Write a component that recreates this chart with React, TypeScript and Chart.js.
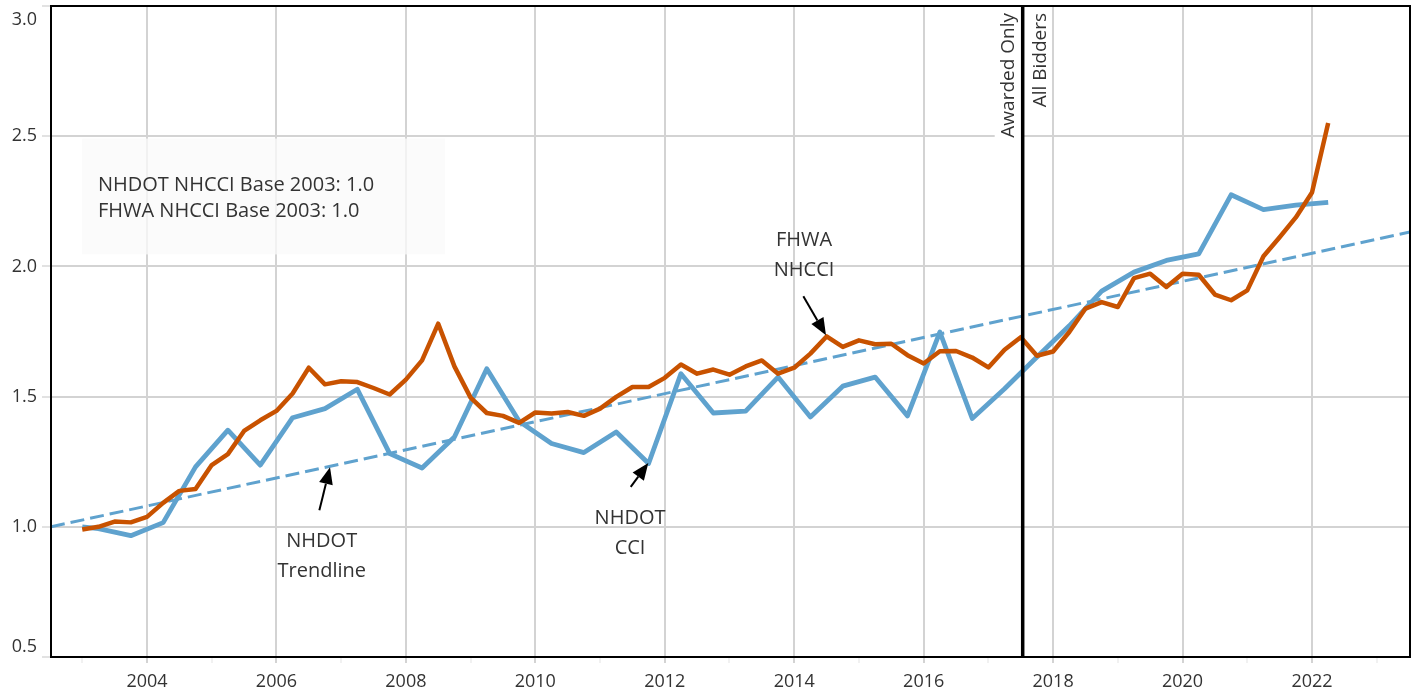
import React, { useEffect, useRef } from 'react';
import { Chart, registerables } from 'chart.js';

Chart.register(...registerables);

const FONT = '"Open Sans", "Noto Sans", "DejaVu Sans", sans-serif';

// ---------- data ----------
const fhwaStartYear = 2003; // first quarter shown (Q1 2003), quarterly thereafter
const fhwaValues = [
  0.99, 1.0, 1.02, 1.017, 1.038, 1.092, 1.138, 1.145,
  1.237, 1.279, 1.368, 1.409, 1.445, 1.512, 1.611, 1.547,
  1.559, 1.556, 1.533, 1.508, 1.565, 1.639, 1.78, 1.616,
  1.496, 1.437, 1.426, 1.399, 1.439, 1.435, 1.441, 1.426,
  1.454, 1.499, 1.537, 1.537, 1.572, 1.623, 1.588, 1.604,
  1.584, 1.616, 1.639, 1.588, 1.611, 1.665, 1.731, 1.691,
  1.716, 1.701, 1.703, 1.659, 1.627, 1.674, 1.675, 1.65,
  1.612, 1.68, 1.728, 1.657, 1.673, 1.748, 1.838, 1.863,
  1.844, 1.955, 1.972, 1.921, 1.972, 1.968, 1.892, 1.87,
  1.908, 2.039, 2.112, 2.188, 2.284, 2.551,
];
const fhwaDates = fhwaValues.map((_, i) => fhwaStartYear + i * 0.25);

const nhdotDates = [
  2003.0, 2003.25, 2003.75, 2004.25, 2004.75, 2005.25, 2005.75, 2006.25,
  2006.75, 2007.25, 2007.75, 2008.25, 2008.75, 2009.25, 2009.75, 2010.25,
  2010.75, 2011.25, 2011.75, 2012.25, 2012.75, 2013.25, 2013.75, 2014.25,
  2014.75, 2015.25, 2015.75, 2016.25, 2016.75, 2017.25, 2017.75, 2018.25,
  2018.75, 2019.25, 2019.75, 2020.25, 2020.75, 2021.25, 2021.75, 2022.25,
];
const nhdotValues = [
  1.0, 0.993, 0.966, 1.016, 1.23, 1.371, 1.237, 1.419,
  1.454, 1.528, 1.281, 1.226, 1.345, 1.607, 1.405, 1.32,
  1.285, 1.364, 1.243, 1.588, 1.437, 1.444, 1.575, 1.422,
  1.54, 1.575, 1.426, 1.748, 1.416, 1.53, 1.652, 1.772,
  1.905, 1.978, 2.023, 2.048, 2.275, 2.218, 2.235, 2.246,
];

const trendDates = [2002.517, 2023.514];
const trendValues = [1.0, 2.132];

const bidderChangeDate = 2017.53;

const xRange = [2002.517, 2023.514];
const yRange = [0.5, 3.0];
const xTickYears = [
  2003, 2004, 2005, 2006, 2007, 2008, 2009, 2010, 2011, 2012, 2013,
  2014, 2015, 2016, 2017, 2018, 2019, 2020, 2021, 2022, 2023,
];
const yTickValues = [0.5, 1.0, 1.5, 2.0, 2.5, 3.0];

const legendLines = ['NHDOT NHCCI Base 2003: 1.0', 'FHWA NHCCI Base 2003: 1.0'];
const dividerLabels = ['Awarded Only', 'All Bidders'];

// ---------- annotation placement (data coordinates) ----------
const legendBox = { x1: 2002.996, x2: 2008.605, y1: 2.491, y2: 2.046, textX: 2003.243, textY: 2.289 };
const callouts = [
  { lines: ['NHDOT', 'Trendline'], textX: 2006.7, textY: 0.923, tail: [2006.663, 1.064], tip: [2006.828, 1.229] },
  { lines: ['NHDOT', 'CCI'], textX: 2011.463, textY: 1.01, tail: [2011.474, 1.153], tip: [2011.746, 1.245] },
  { lines: ['FHWA', 'NHCCI'], textX: 2014.152, textY: 2.077, tail: [2014.141, 1.885], tip: [2014.491, 1.736] },
];

const BLUE = '#5fa2ce';
const ORANGE = '#c85200';
const GRID = '#d3d3d3';
const TEXT = '#333333';

function drawArrow(ctx: CanvasRenderingContext2D, x0: number, y0: number, x1: number, y1: number) {
  const ang = Math.atan2(y1 - y0, x1 - x0);
  const hl = 17;
  const hw = 7;
  const bx = x1 - hl * Math.cos(ang);
  const by = y1 - hl * Math.sin(ang);
  ctx.strokeStyle = '#000';
  ctx.fillStyle = '#000';
  ctx.lineWidth = 2;
  ctx.beginPath();
  ctx.moveTo(x0, y0);
  ctx.lineTo(bx, by);
  ctx.stroke();
  ctx.beginPath();
  ctx.moveTo(x1, y1);
  ctx.lineTo(bx + hw * Math.sin(ang), by - hw * Math.cos(ang));
  ctx.lineTo(bx - hw * Math.sin(ang), by + hw * Math.cos(ang));
  ctx.closePath();
  ctx.fill();
}

const overlayPlugin = {
  id: 'overlay',
  beforeDatasetsDraw(chart: any) {
    const { ctx, scales, chartArea } = chart;
    const x = scales.x;
    const y = scales.y;
    ctx.save();
    const bx1 = x.getPixelForValue(legendBox.x1);
    const bx2 = x.getPixelForValue(legendBox.x2);
    const by1 = y.getPixelForValue(legendBox.y1);
    const by2 = y.getPixelForValue(legendBox.y2);
    ctx.fillStyle = 'rgba(250,250,250,0.78)';
    ctx.fillRect(bx1, by1, bx2 - bx1, by2 - by1);
    const lx = x.getPixelForValue(bidderChangeDate);
    ctx.fillStyle = '#ffffff';
    ctx.fillRect(lx - 28, chartArea.top + 1, 27, 133);
    ctx.restore();
  },
  afterDatasetsDraw(chart: any) {
    const { ctx, scales, chartArea } = chart;
    const x = scales.x;
    const y = scales.y;
    ctx.save();
    // legend text
    ctx.fillStyle = TEXT;
    ctx.font = `20px ${FONT}`;
    ctx.textAlign = 'left';
    ctx.textBaseline = 'alphabetic';
    const tx = x.getPixelForValue(legendBox.textX);
    const ty = y.getPixelForValue(legendBox.textY);
    legendLines.forEach((l, i) => ctx.fillText(l, tx, ty + i * 26));

    // callouts
    callouts.forEach((c) => {
      ctx.fillStyle = TEXT;
      ctx.font = `20px ${FONT}`;
      ctx.textAlign = 'center';
      const cx = x.getPixelForValue(c.textX);
      const cy = y.getPixelForValue(c.textY);
      c.lines.forEach((l, i) => ctx.fillText(l, cx, cy + i * 30));
      drawArrow(
        ctx,
        x.getPixelForValue(c.tail[0]), y.getPixelForValue(c.tail[1]),
        x.getPixelForValue(c.tip[0]), y.getPixelForValue(c.tip[1])
      );
    });

    // divider labels
    const lx = x.getPixelForValue(bidderChangeDate);
    ctx.fillStyle = TEXT;
    ctx.font = `19px ${FONT}`;
    ctx.textAlign = 'right';
    ctx.textBaseline = 'alphabetic';
    ctx.save();
    ctx.translate(lx - 9, chartArea.top + 7);
    ctx.rotate(-Math.PI / 2);
    ctx.fillText(dividerLabels[0], 0, 0);
    ctx.restore();
    ctx.save();
    ctx.translate(lx + 23, chartArea.top + 7);
    ctx.rotate(-Math.PI / 2);
    ctx.fillText(dividerLabels[1], 0, 0);
    ctx.restore();

    // plot frame
    ctx.strokeStyle = '#000';
    ctx.lineWidth = 2;
    ctx.strokeRect(chartArea.left, chartArea.top, chartArea.right - chartArea.left, chartArea.bottom - chartArea.top);
    ctx.restore();
  },
};

export default function App() {
  const ref = useRef<HTMLCanvasElement | null>(null);

  useEffect(() => {
    if (!ref.current) return;
    const chart = new Chart(ref.current, {
      type: 'line',
      data: {
        datasets: [
          {
            label: 'Awarded Only / All Bidders',
            data: [
              { x: bidderChangeDate, y: yRange[0] },
              { x: bidderChangeDate, y: yRange[1] },
            ],
            borderColor: '#000000',
            borderWidth: 3.5,
            pointRadius: 0,
          },
          {
            label: 'FHWA NHCCI',
            data: fhwaDates.map((d, i) => ({ x: d, y: fhwaValues[i] })),
            borderColor: ORANGE,
            borderWidth: 4.5,
            pointRadius: 0,
            borderJoinStyle: 'round',
          },
          {
            label: 'NHDOT CCI',
            data: nhdotDates.map((d, i) => ({ x: d, y: nhdotValues[i] })),
            borderColor: BLUE,
            borderWidth: 4.8,
            pointRadius: 0,
            borderJoinStyle: 'round',
          },
          {
            label: 'NHDOT Trendline',
            data: trendDates.map((d, i) => ({ x: d, y: trendValues[i] })),
            borderColor: BLUE,
            borderWidth: 3,
            borderDash: [14, 6],
            pointRadius: 0,
          },
        ],
      } as any,
      options: {
        animation: false,
        responsive: false,
        maintainAspectRatio: false,
        layout: { padding: { top: 6, right: 9, left: 0, bottom: 0 } },
        plugins: {
          legend: { display: false },
          tooltip: { enabled: false },
        },
        scales: {
          x: {
            type: 'linear',
            min: xRange[0],
            max: xRange[1],
            afterBuildTicks: (scale: any) => {
              scale.ticks = xTickYears.map((v) => ({ value: v }));
            },
            afterFit: (scale: any) => {
              scale.height = 39;
              scale.paddingLeft = 0;
              scale.paddingRight = 0;
            },
            border: { display: false },
            grid: {
              color: (c: any) => (c.tick && c.tick.value % 2 === 0 ? GRID : 'rgba(0,0,0,0)'),
              tickColor: (c: any) => (c.tick && c.tick.value % 2 === 0 ? GRID : '#f1f1f1'),
              lineWidth: 2,
              tickLength: 6,
            },
            ticks: {
              autoSkip: false,
              maxRotation: 0,
              padding: 8,
              color: TEXT,
              font: { family: FONT, size: 18 },
              callback: (v: any) => (Number(v) % 2 === 0 ? String(v) : ''),
            },
          },
          y: {
            type: 'linear',
            min: yRange[0],
            max: yRange[1],
            afterBuildTicks: (scale: any) => {
              scale.ticks = yTickValues.map((v) => ({ value: v }));
            },
            afterFit: (scale: any) => {
              scale.width = 51;
              scale.paddingTop = 0;
              scale.paddingBottom = 0;
            },
            border: { display: false },
            grid: {
              color: GRID,
              tickColor: '#e2e2e2',
              lineWidth: 2,
              tickLength: 9,
            },
            ticks: {
              padding: 5,
              color: TEXT,
              font: (c: any) => ({
                family: FONT,
                size: 18,
                lineHeight: c.tick && c.tick.value === yRange[1] ? 1.56 : c.tick && c.tick.value === yRange[0] ? 1.11 : 1.2,
              }),
              callback: (v: any) => {
                const s = Number(v).toFixed(1);
                if (Number(v) === yRange[1]) return ['', s];
                if (Number(v) === yRange[0]) return [s, ''];
                return s;
              },
            },
          },
        },
      } as any,
      plugins: [overlayPlugin as any],
    });
    return () => chart.destroy();
  }, []);

  return (
    <div style={{ position: 'fixed', left: 0, top: 0, width: 1419, height: 696, background: '#fff' }}>
      <canvas ref={ref} width={1419} height={696} style={{ display: 'block', width: 1419, height: 696 }} />
    </div>
  );
}
